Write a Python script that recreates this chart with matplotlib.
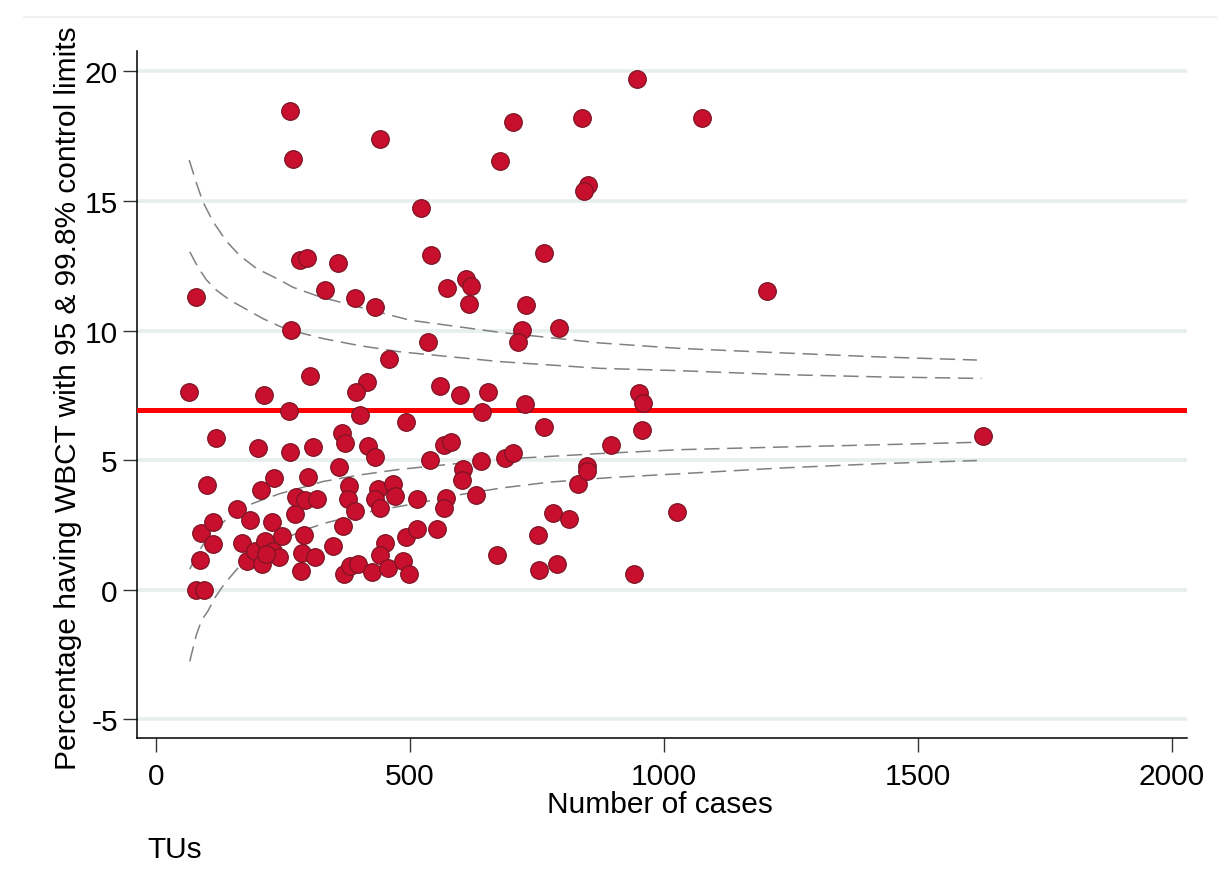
import matplotlib
matplotlib.use("Agg")
import matplotlib.pyplot as plt
from matplotlib.lines import Line2D

plt.rcParams['font.family'] = ['Liberation Sans', 'DejaVu Sans']

# ---- data: TUs (number of cases, percentage having WBCT) ----
cases = [66, 80, 80, 96, 88, 90, 113, 113, 100, 118,
         160, 186, 208, 232, 229, 169, 180, 195, 215, 210,
         231, 249, 243, 218, 201, 213, 262, 265, 267, 265,
         270, 283, 297, 274, 276, 293, 318, 300, 310, 303,
         291, 287, 313, 285, 333, 358, 392, 432, 442, 459,
         415, 395, 402, 493, 366, 372, 417, 431, 361, 381,
         379, 392, 438, 467, 470, 431, 441, 515, 369, 349,
         370, 383, 398, 426, 451, 441, 457, 486, 499, 493,
         515, 522, 541, 536, 559, 598, 653, 726, 642, 567,
         581, 539, 640, 687, 703, 605, 603, 631, 572, 568,
         554, 671, 574, 610, 621, 616, 677, 704, 720, 713,
         728, 764, 794, 764, 753, 755, 789, 782, 813, 831,
         848, 849, 839, 851, 843, 896, 942, 947, 951, 959,
         956, 1025, 1076, 1203, 1628]
pct = [7.63, 11.30, 0.0, 0.0, 1.15, 2.19, 1.76, 2.62, 4.04, 5.86,
       3.12, 2.68, 3.83, 4.30, 2.62, 1.78, 1.12, 1.50, 1.89, 0.98,
       1.50, 2.05, 1.25, 1.37, 5.46, 7.53, 6.88, 5.30, 10.03, 18.47,
       16.62, 12.73, 12.80, 2.92, 3.57, 3.44, 3.48, 4.33, 5.49, 8.25,
       2.09, 1.43, 1.25, 0.72, 11.58, 12.59, 11.25, 10.90, 17.40, 8.90,
       8.00, 7.61, 6.73, 6.46, 6.03, 5.64, 5.55, 5.12, 4.73, 4.00,
       3.48, 3.03, 3.87, 4.06, 3.61, 3.48, 3.16, 3.48, 2.45, 1.68,
       0.60, 0.90, 0.99, 0.68, 1.81, 1.35, 0.84, 1.10, 0.60, 2.03,
       2.32, 14.74, 12.90, 9.55, 7.87, 7.51, 7.64, 7.16, 6.84, 5.57,
       5.68, 5.00, 4.97, 5.06, 5.26, 4.64, 4.23, 3.64, 3.52, 3.13,
       2.35, 1.32, 11.66, 11.97, 11.73, 11.02, 16.54, 18.05, 10.02, 9.55,
       10.99, 12.98, 10.11, 6.28, 2.09, 0.77, 0.99, 2.94, 2.71, 4.06,
       4.77, 4.58, 18.20, 15.63, 15.38, 5.57, 0.62, 19.70, 7.59, 7.22,
       6.17, 2.99, 18.20, 11.52, 5.93]

overall_pct = 6.93

# control limits (n, %)
up998_n = [66, 80, 93, 113, 139, 165, 198, 244, 270, 323, 362, 500, 677, 874, 1031, 1228, 1425, 1616]
up998_v = [16.58, 15.70, 14.96, 14.20, 13.45, 12.90, 12.40, 11.95, 11.67, 11.30, 11.10, 10.40, 9.93, 9.52, 9.31, 9.14, 8.98, 8.86]
up95_n = [67, 83, 100, 120, 146, 180, 211, 244, 277, 329, 400, 480, 677, 874, 1031, 1228, 1425, 1625]
up95_v = [13.04, 12.45, 11.95, 11.55, 11.17, 10.80, 10.46, 10.16, 9.95, 9.69, 9.42, 9.18, 8.80, 8.54, 8.45, 8.30, 8.21, 8.15]
lo95_n = [67, 83, 100, 119, 139, 160, 185, 215, 244, 290, 329, 400, 480, 677, 874, 1031, 1228, 1425, 1625]
lo95_v = [0.79, 1.40, 1.95, 2.32, 2.72, 3.02, 3.28, 3.50, 3.70, 3.95, 4.17, 4.42, 4.64, 5.03, 5.25, 5.40, 5.50, 5.59, 5.69]
lo998_n = [67, 80, 90, 103, 117, 132, 146, 165, 190, 225, 264, 300, 336, 428, 520, 585, 680, 776, 900, 1031, 1228, 1425, 1616]
lo998_v = [-2.77, -1.75, -1.20, -0.82, -0.30, 0.13, 0.47, 0.90, 1.35, 1.75, 2.06, 2.35, 2.58, 3.03, 3.35, 3.62, 3.92, 4.15, 4.33, 4.47, 4.69, 4.86, 4.98]

x_ticks = [0, 500, 1000, 1500, 2000]
y_ticks = [-5, 0, 5, 10, 15, 20]

W, H = 1217, 887
fig = plt.figure(figsize=(W / 100, H / 100), dpi=100)
fig.patch.set_facecolor('white')

ax_l, ax_r, ax_t, ax_b = 137.3, 1187, 52, 739
ax = fig.add_axes([ax_l / W, 1 - ax_b / H, (ax_r - ax_l) / W, (ax_b - ax_t) / H])

ax.set_xlim(-36.2, 2029.4)
ax.set_ylim(-5.73, 20.79)

for yv in y_ticks:
    ax.axhline(yv, color='#e6eeee', lw=2.6, zorder=0)

dash_kw = dict(color='#808080', lw=1.1, dashes=(10, 5), zorder=2)
ax.plot(up998_n, up998_v, **dash_kw)
ax.plot(up95_n, up95_v, **dash_kw)
ax.plot(lo95_n, lo95_v, **dash_kw)
ax.plot(lo998_n, lo998_v, **dash_kw)

ax.axhline(overall_pct, color='#ff0000', lw=3.6, zorder=3)

ax.scatter(cases, pct, s=160, c='#c8102e', edgecolors='#7d1424',
           linewidths=0.9, zorder=4)

for side in ['top', 'right']:
    ax.spines[side].set_visible(False)
for side in ['left', 'bottom']:
    ax.spines[side].set_color('black')
    ax.spines[side].set_linewidth(1.1)

ax.set_xticks(x_ticks)
ax.set_xticklabels([str(v) for v in x_ticks])
ax.set_yticks(y_ticks)
ax.set_yticklabels([str(v) for v in y_ticks])
ax.tick_params(axis='both', direction='out', length=10, width=1.0,
               color='#333333', labelsize=21.5, labelcolor='black')
ax.tick_params(axis='x', pad=7)
ax.tick_params(axis='y', pad=4)

fig.text(68 / W, 1 - 398 / H, 'Percentage having WBCT with 95 & 99.8% control limits',
         rotation=90, ha='center', va='center', fontsize=21.5)
fig.text(660 / W, 1 - 805 / H, 'Number of cases', ha='center', va='center', fontsize=21.5)
fig.text(147 / W, 1 - 850 / H, 'TUs', ha='left', va='center', fontsize=21.5)

fig.add_artist(Line2D([0.02, 1.0], [1 - 18 / H, 1 - 18 / H], color='#eeeeee', lw=1.2))

fig.savefig('out.png', dpi=100, facecolor='white')
